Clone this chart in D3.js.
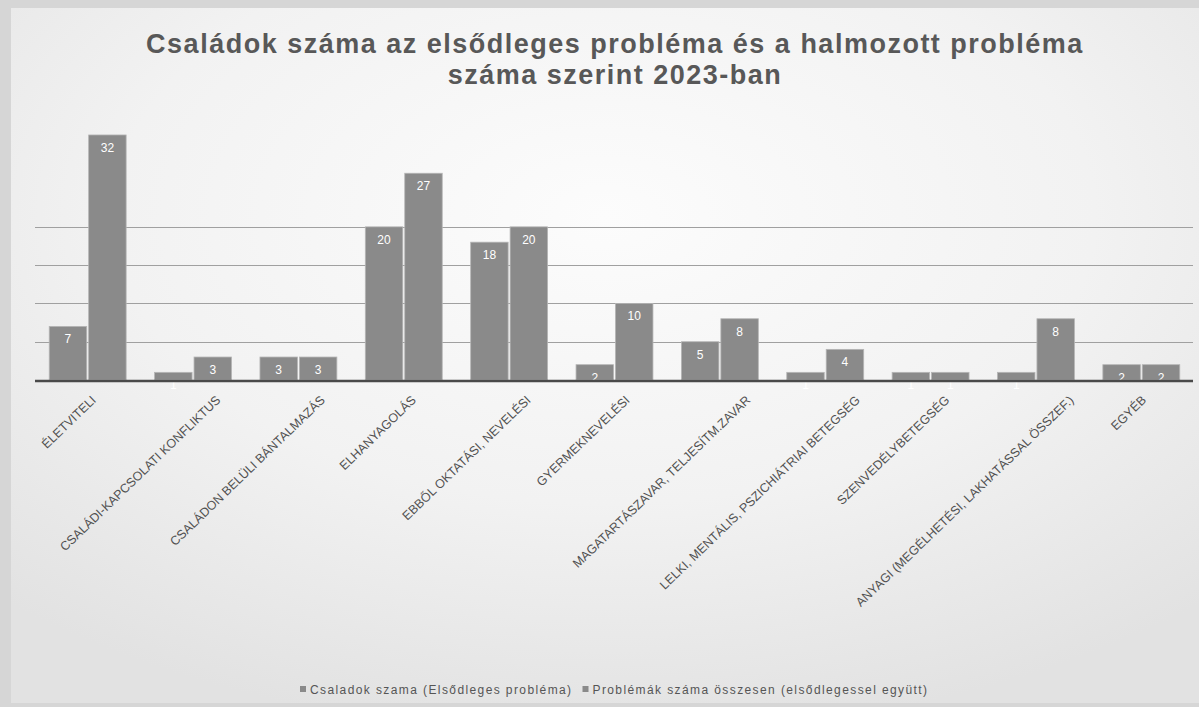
<!DOCTYPE html>
<html>
<head>
<meta charset="utf-8">
<script src="https://cdn.jsdelivr.net/npm/d3@7/dist/d3.min.js"></script>
<style>
  html, body { margin: 0; padding: 0; background: #e9e9e9; }
  svg { display: block; }
</style>
</head>
<body>
<svg id="chart" width="1199" height="707"></svg>
<script>
const categories = [
  "ÉLETVITELI",
  "CSALÁDI-KAPCSOLATI KONFLIKTUS",
  "CSALÁDON BELÜLI BÁNTALMAZÁS",
  "ELHANYAGOLÁS",
  "EBBŐL OKTATÁSI, NEVELÉSI",
  "GYERMEKNEVELÉSI",
  "MAGATARTÁSZAVAR, TELJESÍTM.ZAVAR",
  "LELKI, MENTÁLIS, PSZICHIÁTRIAI BETEGSÉG",
  "SZENVEDÉLYBETEGSÉG",
  "ANYAGI (MEGÉLHETÉSI, LAKHATÁSSAL ÖSSZEF.)",
  "EGYÉB"
];
const seriesNames = [
  "Csaladok szama (Elsődleges probléma)",
  "Problémák száma összesen (elsődlegessel együtt)"
];
const primaryValues = [7, 1, 3, 20, 18, 2, 5, 1, 1, 1, 2];
const totalValues   = [32, 3, 3, 27, 20, 10, 8, 4, 1, 8, 2];
const gridTicks = [5, 10, 15, 20];
const titleLines = [
  "Családok száma az elsődleges probléma és a halmozott probléma",
  "száma szerint 2023-ban"
];

const svg = d3.select("#chart");
const W = 1199, H = 707;
const FONT = "Liberation Sans, Arial, sans-serif";

const defs = svg.append("defs");
const rg = defs.append("radialGradient").attr("id", "bg")
  .attr("cx", "50%").attr("cy", "30%").attr("r", "75%");
rg.append("stop").attr("offset", "0%").attr("stop-color", "#fcfcfc");
rg.append("stop").attr("offset", "55%").attr("stop-color", "#f2f2f2");
rg.append("stop").attr("offset", "100%").attr("stop-color", "#e2e2e2");
svg.append("rect").attr("width", W).attr("height", H).attr("fill", "#d6d6d6");
svg.append("rect").attr("x", 11).attr("y", 8).attr("width", W - 11).attr("height", H - 12)
  .attr("fill", "url(#bg)");

const plot = { left: 35, right: 1194, top: 112, bottom: 380 };

const x0 = d3.scaleBand().domain(categories)
  .range([plot.left, plot.right]).paddingInner(0.27).paddingOuter(0.135);
const x1 = d3.scaleBand().domain([0, 1]).range([0, x0.bandwidth()]).paddingInner(0.05);
const y = d3.scaleLinear().domain([0, 35]).range([plot.bottom, plot.top]);

// gridlines
svg.append("g").selectAll("line").data(gridTicks).join("line")
  .attr("x1", plot.left).attr("x2", plot.right - 1)
  .attr("y1", d => Math.round(y(d)) + 0.5).attr("y2", d => Math.round(y(d)) + 0.5)
  .attr("stroke", "#a0a0a0").attr("stroke-width", 1);

// bars
const rows = categories.map((c, i) => ({ cat: c, vals: [primaryValues[i], totalValues[i]] }));
const groups = svg.append("g").selectAll("g").data(rows).join("g")
  .attr("transform", d => `translate(${x0(d.cat)},0)`);

groups.selectAll("rect").data(d => d.vals.map((v, k) => ({ v, k }))).join("rect")
  .attr("x", d => x1(d.k))
  .attr("width", x1.bandwidth())
  .attr("y", d => y(d.v))
  .attr("height", d => y(0) - y(d.v))
  .attr("fill", "#8a8a8a")
  .attr("stroke", "#b5b5b5").attr("stroke-width", 0.8);

groups.selectAll("text").data(d => d.vals.map((v, k) => ({ v, k }))).join("text")
  .attr("x", d => x1(d.k) + x1.bandwidth() / 2)
  .attr("y", d => y(d.v) + 17)
  .attr("text-anchor", "middle")
  .attr("font-family", FONT)
  .attr("font-size", 12)
  .attr("fill", "#ffffff")
  .text(d => d.v);

// baseline axis
svg.append("line")
  .attr("x1", plot.left).attr("x2", plot.right - 1)
  .attr("y1", plot.bottom + 1).attr("y2", plot.bottom + 1)
  .attr("stroke", "#4a4a4a").attr("stroke-width", 2.5);

// category labels (rotated)
svg.append("g").selectAll("text").data(categories).join("text")
  .attr("font-family", FONT)
  .attr("font-size", 12.5)
  .attr("fill", "#505050")
  .attr("text-anchor", "end")
  .text(d => d)
  .each(function (d) {
    const len = this.getComputedTextLength();
    const cx = x0(d) + x0.bandwidth() / 2 + 0.13 * len;
    d3.select(this).attr("transform", `translate(${cx},${plot.bottom + 21}) rotate(-44)`);
  });

// title
svg.append("g").selectAll("text").data(titleLines).join("text")
  .attr("x", 615)
  .attr("y", (d, i) => 53 + i * 31)
  .attr("text-anchor", "middle")
  .attr("font-family", FONT)
  .attr("font-weight", "bold")
  .attr("font-size", 27)
  .attr("letter-spacing", 1.5)
  .attr("fill", "#585858")
  .text(d => d);

// legend
const leg = svg.append("g").attr("font-family", FONT)
  .attr("font-size", 12).attr("letter-spacing", 1.4).attr("fill", "#555");
let lx = 300;
seriesNames.forEach((name) => {
  leg.append("rect").attr("x", lx).attr("y", 686).attr("width", 6).attr("height", 6)
    .attr("fill", "#8a8a8a");
  const t = leg.append("text").attr("x", lx + 10).attr("y", 694).text(name);
  lx += 10 + t.node().getComputedTextLength() + 10;
});
</script>
</body>
</html>
